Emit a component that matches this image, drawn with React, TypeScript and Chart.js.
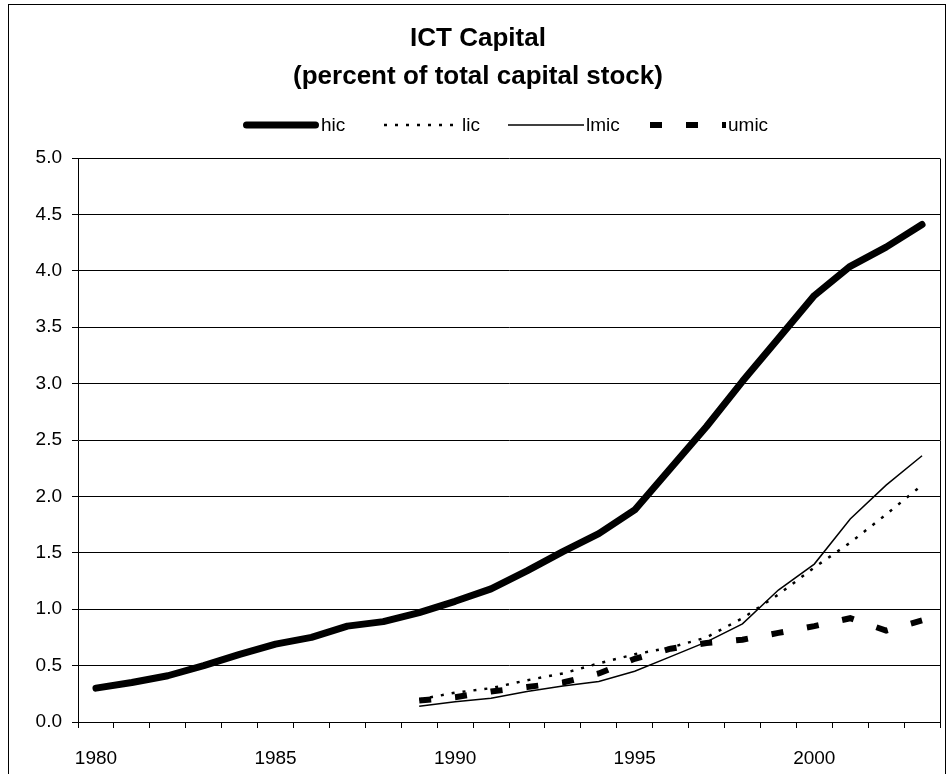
import React, { useEffect, useRef } from 'react';
import { Chart, registerables } from 'chart.js';

Chart.register(...registerables);

const years = ['1980','1981','1982','1983','1984','1985','1986','1987','1988','1989','1990','1991','1992','1993','1994','1995','1996','1997','1998','1999','2000','2001','2002','2003'];
const hic = [0.30,0.35,0.41,0.50,0.60,0.69,0.75,0.85,0.89,0.97,1.07,1.18,1.34,1.51,1.67,1.88,2.25,2.62,3.02,3.40,3.78,4.04,4.21,4.41];
const lic = [null,null,null,null,null,null,null,null,null,0.20,0.26,0.30,0.37,0.43,0.52,0.60,0.66,0.75,0.92,1.13,1.37,1.59,1.84,2.10];
const lmic = [null,null,null,null,null,null,null,null,null,0.14,0.18,0.21,0.27,0.32,0.36,0.45,0.58,0.71,0.87,1.17,1.40,1.80,2.10,2.36];
const umic = [null,null,null,null,null,null,null,null,null,0.19,0.22,0.27,0.31,0.35,0.43,0.56,0.65,0.70,0.73,0.79,0.85,0.92,0.81,0.90];
const titleLines = ['ICT Capital', '(percent of total capital stock)'];
const seriesNames = ['hic', 'lic', 'lmic', 'umic'];

const FONT = '"Liberation Sans", Arial, sans-serif';

const decorPlugin = {
  id: 'decor',
  afterDraw(chart: any) {
    const ctx = chart.ctx as CanvasRenderingContext2D;
    const a = chart.chartArea;
    ctx.save();
    ctx.strokeStyle = '#000';
    ctx.lineWidth = 1;
    ctx.strokeRect(8.5, 4.5, 937, 800);
    ctx.beginPath();
    ctx.moveTo(Math.round(a.right) + 0.5, Math.round(a.top) + 0.5);
    ctx.lineTo(Math.round(a.right) + 0.5, Math.round(a.bottom) + 0.5);
    ctx.stroke();
    ctx.fillStyle = '#000';
    ctx.textAlign = 'center';
    ctx.textBaseline = 'alphabetic';
    ctx.font = `bold 26px ${FONT}`;
    ctx.fillText(titleLines[0], 478, 46);
    ctx.fillText(titleLines[1], 478, 84);
    const items = chart.data.datasets.map((d: any, i: number) => ({
      text: seriesNames[i],
      width: d.borderWidth,
      dash: d.borderDash || [],
      cap: d.borderCapStyle || 'butt',
    }));
    const starts = [243, 384, 508, 650];
    const sampleLen = 76;
    const ly = 125;
    ctx.font = `19px ${FONT}`;
    ctx.textAlign = 'left';
    ctx.textBaseline = 'middle';
    items.forEach((it: any, i: number) => {
      const x0 = starts[i];
      ctx.beginPath();
      ctx.lineWidth = it.width;
      ctx.setLineDash(it.dash);
      ctx.lineCap = it.cap;
      ctx.moveTo(x0 + (it.cap === 'round' ? it.width / 2 : 0), ly);
      ctx.lineTo(x0 + sampleLen - (it.cap === 'round' ? it.width / 2 : 0), ly);
      ctx.stroke();
      ctx.setLineDash([]);
      ctx.fillText(it.text, x0 + sampleLen + 2, ly + 1);
    });
    ctx.restore();
  },
};

export default function App() {
  const ref = useRef<HTMLCanvasElement>(null);
  useEffect(() => {
    if (!ref.current) return;
    const chart = new Chart(ref.current, {
      type: 'line',
      data: {
        labels: years,
        datasets: [
          { label: 'hic', data: hic, borderColor: '#000', borderWidth: 7, pointRadius: 0, tension: 0, borderCapStyle: 'round', borderJoinStyle: 'round', fill: false },
          { label: 'lic', data: lic, borderColor: '#000', borderWidth: 2.5, borderDash: [3, 8], pointRadius: 0, tension: 0, borderCapStyle: 'butt', fill: false },
          { label: 'lmic', data: lmic, borderColor: '#000', borderWidth: 1.5, pointRadius: 0, tension: 0, borderCapStyle: 'butt', fill: false },
          { label: 'umic', data: umic, borderColor: '#000', borderWidth: 6, borderDash: [12, 24], pointRadius: 0, tension: 0, borderCapStyle: 'butt', fill: false },
        ] as any,
      },
      options: {
        responsive: false,
        animation: false,
        devicePixelRatio: 1,
        layout: { padding: { left: 0, top: 158, right: 11, bottom: 0 } },
        plugins: {
          legend: { display: false },
          title: { display: false },
          tooltip: { enabled: false },
        },
        scales: {
          x: {
            type: 'category',
            offset: true,
            grid: { offset: true, drawOnChartArea: false, drawTicks: true, tickLength: 6, color: '#000', lineWidth: 1 },
            border: { display: true, color: '#000', width: 1 },
            ticks: {
              autoSkip: false,
              maxRotation: 0,
              minRotation: 0,
              padding: 19,
              color: '#000',
              font: { family: FONT, size: 19 },
              callback: (_v: any, i: number) => (Number(years[i]) % 5 === 0 ? years[i] : ''),
            },
            afterFit: (s: any) => { s.height = 52; },
          },
          y: {
            min: 0,
            max: 5,
            grid: { color: '#000', lineWidth: 1, drawTicks: true, tickLength: 6 },
            border: { display: true, color: '#000', width: 1 },
            ticks: {
              stepSize: 0.5,
              padding: 10,
              color: '#000',
              font: { family: FONT, size: 19 },
              callback: (v: any) => Number(v).toFixed(1),
            },
            afterFit: (s: any) => { s.width = 78; },
          },
        },
      } as any,
      plugins: [decorPlugin],
    });
    return () => chart.destroy();
  }, []);
  return (
    <div style={{ position: 'absolute', left: 0, top: 0, width: 951, height: 774, background: '#fff', overflow: 'hidden' }}>
      <canvas ref={ref} width={951} height={774} style={{ display: 'block' }} />
    </div>
  );
}
